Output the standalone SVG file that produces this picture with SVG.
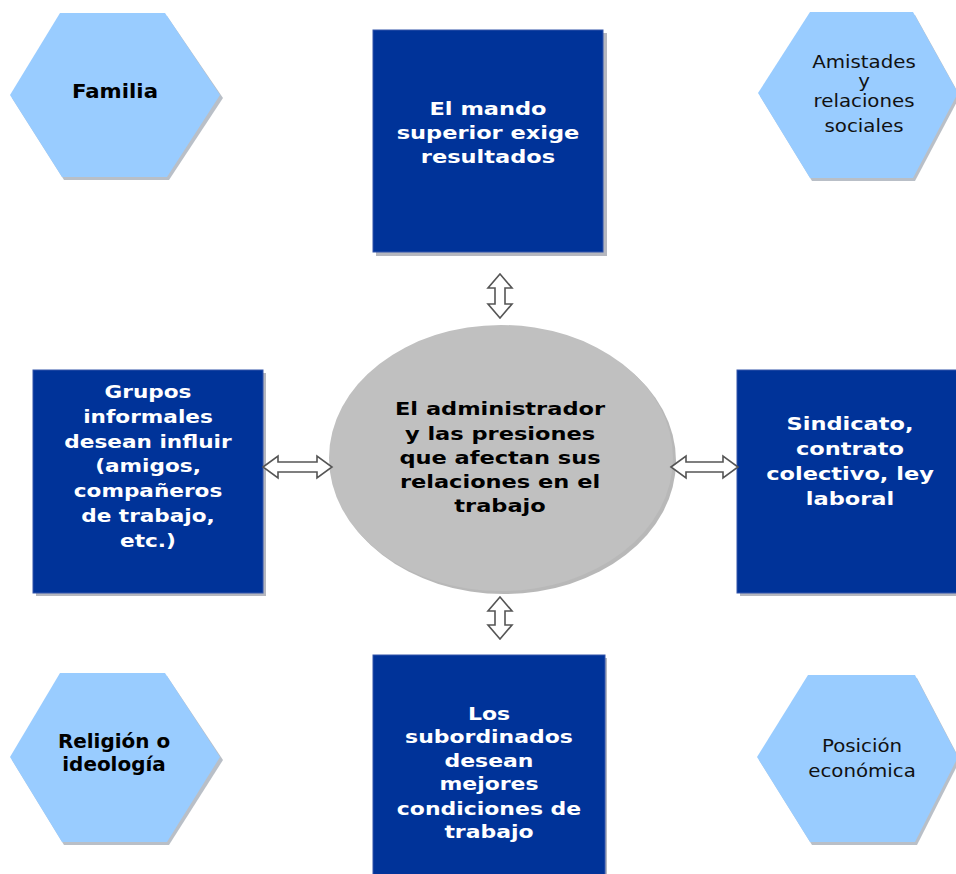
<svg xmlns="http://www.w3.org/2000/svg" width="956" height="874" viewBox="0 0 956 874">
<defs>
<style>
.hex{fill:#99CCFF;}
.hexsh{fill:#7f8a99;opacity:0.55;}
.box{fill:#003399;stroke:#3355aa;stroke-width:1;}
.boxsh{fill:#6b6f80;opacity:0.5;}
.ell{fill:#C0C0C0;}
.ellsh{fill:#888;opacity:0.6;}
.arr{fill:#ffffff;stroke:#555555;stroke-width:1.6;stroke-linejoin:miter;}
.wt{font-family:"DejaVu Sans",Verdana,sans-serif;font-weight:bold;font-size:18px;fill:#ffffff;text-anchor:middle;}
.bt{font-family:"DejaVu Sans",Verdana,sans-serif;font-weight:bold;font-size:18px;fill:#000000;text-anchor:middle;}
.ht{font-family:"DejaVu Sans",Verdana,sans-serif;font-weight:bold;font-size:19px;fill:#000000;text-anchor:middle;}
.rt{font-family:"DejaVu Sans",Verdana,sans-serif;font-size:18px;fill:#111111;text-anchor:middle;}
</style>
</defs>
<rect width="956" height="874" fill="#ffffff"/>

<g id="familia">
<polygon class="hexsh" points="12,98 62,16 167,16 223,98 169,180 64,180"/>
<polygon class="hex" points="10,95 60,13 165,13 220,95 167,177 62,177"/>
<text class="ht" transform="translate(115,0) scale(1.12,1)"><tspan x="0" y="98">Familia</tspan></text>
</g>

<g id="amistades">
<polygon class="hexsh" points="760,96 812,15 915,15 960,96 915,181 812,181"/>
<polygon class="hex" points="758,93 810,12 913,12 958,93 913,178 810,178"/>
<text class="rt" transform="translate(864,0) scale(1.1,1)"><tspan x="0" y="68">Amistades</tspan><tspan x="0" y="87">y</tspan><tspan x="0" y="107">relaciones</tspan><tspan x="0" y="132">sociales</tspan></text>
</g>

<g id="mando">
<rect class="boxsh" x="376" y="33" width="231" height="223"/>
<rect class="box" x="373" y="30" width="230" height="222"/>
<text class="wt" transform="translate(488,0) scale(1.25,1)"><tspan x="0" y="115">El mando</tspan><tspan x="0" y="139">superior exige</tspan><tspan x="0" y="163">resultados</tspan></text>
</g>

<g id="grupos">
<rect class="boxsh" x="36" y="373" width="230" height="223"/>
<rect class="box" x="33" y="370" width="230" height="223"/>
<text class="wt" transform="translate(148,0) scale(1.2,1)"><tspan x="0" y="398">Grupos</tspan><tspan x="0" y="423">informales</tspan><tspan x="0" y="448">desean influir</tspan><tspan x="0" y="472">(amigos,</tspan><tspan x="0" y="497">compañeros</tspan><tspan x="0" y="522">de trabajo,</tspan><tspan x="0" y="547">etc.)</tspan></text>
</g>

<g id="administrador">
<ellipse class="ellsh" cx="504" cy="461" rx="172" ry="133"/>
<ellipse class="ell" cx="501" cy="458" rx="172" ry="133"/>
<text class="bt" transform="translate(500,0) scale(1.25,1)"><tspan x="0" y="415">El administrador</tspan><tspan x="0" y="440">y las presiones</tspan><tspan x="0" y="464">que afectan sus</tspan><tspan x="0" y="488">relaciones en el</tspan><tspan x="0" y="512">trabajo</tspan></text>
</g>

<g id="sindicato">
<rect class="boxsh" x="740" y="373" width="230" height="223"/>
<rect class="box" x="737" y="370" width="230" height="223"/>
<text class="wt" transform="translate(850,0) scale(1.25,1)"><tspan x="0" y="430">Sindicato,</tspan><tspan x="0" y="455">contrato</tspan><tspan x="0" y="480">colectivo, ley</tspan><tspan x="0" y="505">laboral</tspan></text>
</g>

<g id="religion">
<polygon class="hexsh" points="12,760 62,676 167,676 223,760 169,845 64,845"/>
<polygon class="hex" points="10,757 60,673 165,673 220,757 167,842 62,842"/>
<text class="ht" transform="translate(114,0) scale(1.05,1)"><tspan x="0" y="748">Religión o</tspan><tspan x="0" y="771">ideología</tspan></text>
</g>

<g id="subordinados">
<rect class="boxsh" x="376" y="658" width="231" height="230"/>
<rect class="box" x="373" y="655" width="232" height="230"/>
<text class="wt" transform="translate(489,0) scale(1.22,1)"><tspan x="0" y="720">Los</tspan><tspan x="0" y="743">subordinados</tspan><tspan x="0" y="767">desean</tspan><tspan x="0" y="790">mejores</tspan><tspan x="0" y="815">condiciones de</tspan><tspan x="0" y="838">trabajo</tspan></text>
</g>

<g id="posicion">
<polygon class="hexsh" points="759,760 810,678 917,678 960,760 917,845 812,845"/>
<polygon class="hex" points="757,757 808,675 915,675 958,757 915,842 810,842"/>
<text class="rt" transform="translate(862,0) scale(1.1,1)"><tspan x="0" y="752">Posición</tspan><tspan x="0" y="777">económica</tspan></text>
</g>

<g id="connectors">
<polygon class="arr" points="500,274 512,288 505,288 505,304 512,304 500,318 488,304 495,304 495,288 488,288"/>
<polygon class="arr" points="500,597 512,611 505,611 505,625 512,625 500,639 488,625 495,625 495,611 488,611"/>
<polygon class="arr" points="263,467 278,456 278,462 317,462 317,456 332,467 317,478 317,472 278,472 278,478"/>
<polygon class="arr" points="671,467 686,456 686,462 723,462 723,456 738,467 723,478 723,472 686,472 686,478"/>
</g>
</svg>
